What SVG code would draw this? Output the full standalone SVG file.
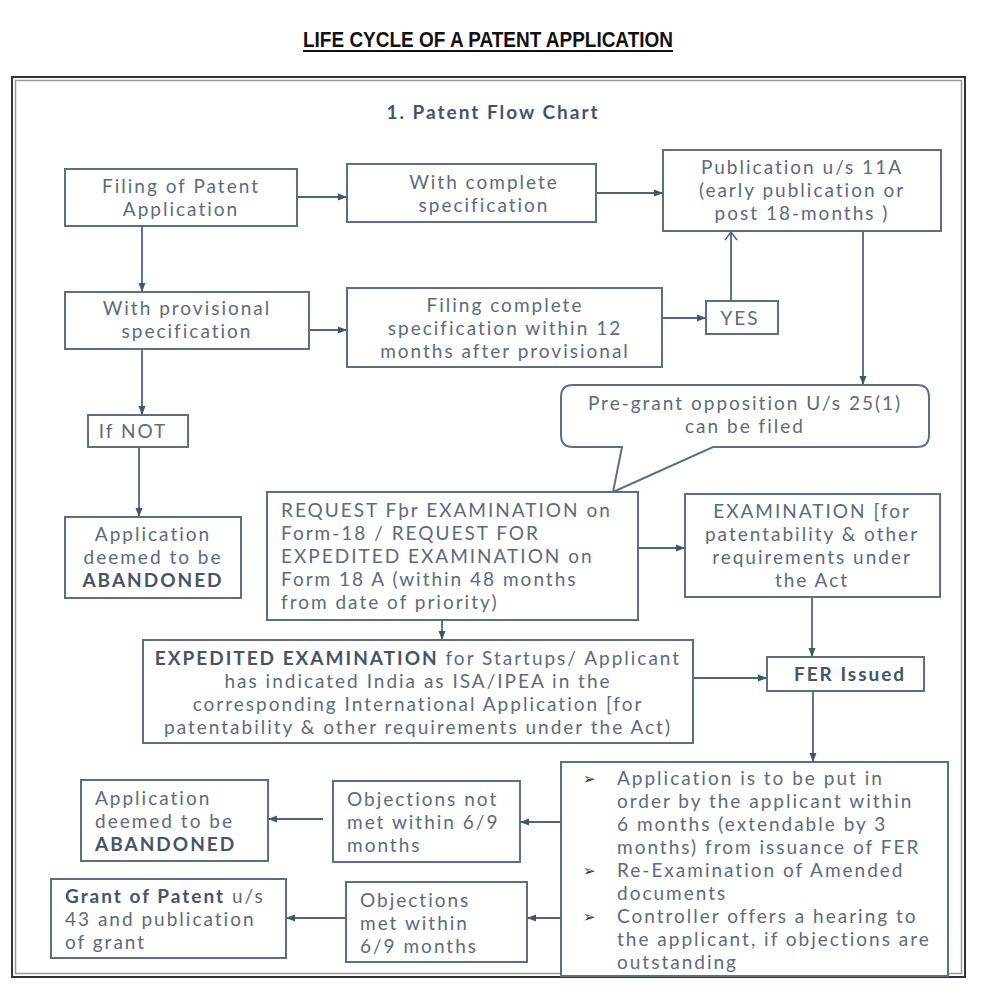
<svg xmlns="http://www.w3.org/2000/svg" width="998" height="998" viewBox="0 0 998 998">
<style>
.bx{fill:#fff;stroke:#5b6f86;stroke-width:2}
.t{font-family:Lato,"Open Sans",sans-serif;font-size:19px;fill:#5d6a7b;letter-spacing:2px}
.c{text-anchor:middle}
.b{font-weight:bold;fill:#44546a}
.ln{fill:none;stroke:#4e6580;stroke-width:1.8}
.bul{font-family:"DejaVu Sans",sans-serif;font-size:15px;fill:#333}
</style>
<defs>
<marker id="ar" markerUnits="userSpaceOnUse" markerWidth="10" markerHeight="10" refX="9" refY="5" orient="auto">
<path d="M0,1.5 L9,5 L0,8.5 Z" fill="#3f5570"/>
</marker>
<marker id="op" markerUnits="userSpaceOnUse" markerWidth="14" markerHeight="14" refX="9" refY="7" orient="auto">
<path d="M1,1 L9,7 L1,13" fill="none" stroke="#4e6580" stroke-width="1.5"/>
</marker>
</defs>
<rect width="998" height="998" fill="#fff"/>
<g id="title">
<text x="488" y="47" font-family="Liberation Sans,Arial,sans-serif" font-weight="bold" font-size="22" text-anchor="middle" textLength="370" lengthAdjust="spacingAndGlyphs" fill="#111">LIFE CYCLE OF A PATENT APPLICATION</text>
<line x1="303" y1="51" x2="673" y2="51" stroke="#111" stroke-width="2"/>
</g>
<g id="frame">
<rect x="12" y="77" width="953" height="900" fill="none" stroke="#333" stroke-width="2"/>
<rect x="15.5" y="80.5" width="946" height="893" fill="none" stroke="#999" stroke-width="1.5"/>
</g>
<text x="493" y="119" class="t c b" style="font-size:19px;letter-spacing:2px">1. Patent Flow Chart</text>

<g id="connectors">
<line class="ln" x1="297" y1="197" x2="347" y2="197" marker-end="url(#ar)"/>
<line class="ln" x1="596" y1="193" x2="663" y2="193" marker-end="url(#ar)"/>
<line class="ln" x1="142" y1="226" x2="142" y2="292" marker-end="url(#ar)"/>
<line class="ln" x1="309" y1="330" x2="347" y2="330" marker-end="url(#ar)"/>
<line class="ln" x1="662" y1="318" x2="706" y2="318" marker-end="url(#ar)"/>
<line class="ln" x1="731" y1="301" x2="731" y2="232" marker-end="url(#op)"/>
<line class="ln" x1="863" y1="231" x2="863" y2="385" marker-end="url(#ar)"/>
<line class="ln" x1="142" y1="349" x2="142" y2="415" marker-end="url(#ar)"/>
<line class="ln" x1="139" y1="447" x2="139" y2="517" marker-end="url(#ar)"/>
<line class="ln" x1="638" y1="548" x2="685" y2="548" marker-end="url(#ar)"/>
<line class="ln" x1="442" y1="620" x2="442" y2="640" marker-end="url(#ar)"/>
<line class="ln" x1="812" y1="597" x2="812" y2="657" marker-end="url(#ar)"/>
<line class="ln" x1="693" y1="678" x2="767" y2="678" marker-end="url(#ar)"/>
<line class="ln" x1="813" y1="691" x2="813" y2="762" marker-end="url(#ar)"/>
<line class="ln" x1="561" y1="822" x2="520" y2="822" marker-end="url(#ar)"/>
<line class="ln" x1="323" y1="819" x2="268" y2="819" marker-end="url(#ar)"/>
<line class="ln" x1="561" y1="918" x2="527" y2="918" marker-end="url(#ar)"/>
<line class="ln" x1="346" y1="918" x2="286" y2="918" marker-end="url(#ar)"/>
</g>

<g id="filing">
<rect class="bx" x="65" y="169" width="232" height="57"/>
<text class="t c" x="181" y="193">Filing of Patent</text>
<text class="t c" x="181" y="216">Application</text>
</g>
<g id="complete">
<rect class="bx" x="347" y="164" width="249" height="58"/>
<text class="t c" x="484" y="189">With complete</text>
<text class="t c" x="484" y="212">specification</text>
</g>
<g id="publication">
<rect class="bx" x="663" y="150" width="278" height="81"/>
<text class="t c" x="802" y="174">Publication u/s 11A</text>
<text class="t c" x="802" y="197">(early publication or</text>
<text class="t c" x="802" y="220">post 18-months )</text>
</g>
<g id="provisional">
<rect class="bx" x="65" y="292" width="244" height="57"/>
<text class="t c" x="187" y="315">With provisional</text>
<text class="t c" x="187" y="338">specification</text>
</g>
<g id="filingcomplete">
<rect class="bx" x="347" y="288" width="315" height="79"/>
<text class="t c" x="505" y="312">Filing complete</text>
<text class="t c" x="505" y="335">specification within 12</text>
<text class="t c" x="505" y="358">months after provisional</text>
</g>
<g id="yes">
<rect class="bx" x="706" y="301" width="72" height="33"/>
<text class="t c" x="740" y="325">YES</text>
</g>
<g id="pregrant">
<path class="bx" d="M573,385 H917 Q929,385 929,397 V435 Q929,447 917,447 H713 L613,492 L622,447 H573 Q561,447 561,435 V397 Q561,385 573,385 Z"/>
<text class="t c" x="745" y="410">Pre-grant opposition U/s 25(1)</text>
<text class="t c" x="745" y="433">can be filed</text>
</g>
<g id="ifnot">
<rect class="bx" x="88" y="415" width="100" height="32"/>
<text class="t c" x="133" y="438">If NOT</text>
</g>
<g id="abandoned1">
<rect class="bx" x="65" y="517" width="176" height="81"/>
<text class="t c" x="153" y="541">Application</text>
<text class="t c" x="153" y="564">deemed to be</text>
<text class="t c b" x="153" y="587">ABANDONED</text>
</g>
<g id="request">
<rect class="bx" x="267" y="492" width="371" height="128"/>
<text class="t" x="281" y="517">REQUEST Fþr EXAMINATION on</text>
<text class="t" x="281" y="540">Form-18 /  REQUEST FOR</text>
<text class="t" x="281" y="563">EXPEDITED EXAMINATION on</text>
<text class="t" x="281" y="586">Form 18 A (within 48 months</text>
<text class="t" x="281" y="609">from date of priority)</text>
</g>
<g id="examination">
<rect class="bx" x="685" y="494" width="255" height="103"/>
<text class="t c" x="812" y="518">EXAMINATION [for</text>
<text class="t c" x="812" y="541">patentability &amp; other</text>
<text class="t c" x="812" y="564">requirements under</text>
<text class="t c" x="812" y="587">the Act</text>
</g>
<g id="expedited">
<rect class="bx" x="143" y="640" width="550" height="103"/>
<text class="t c" x="418" y="665"><tspan class="b">EXPEDITED EXAMINATION</tspan> for Startups/ Applicant</text>
<text class="t c" x="418" y="688">has indicated India as ISA/IPEA in the</text>
<text class="t c" x="418" y="711">corresponding International Application [for</text>
<text class="t c" x="418" y="734">patentability &amp; other requirements under the Act)</text>
</g>
<g id="fer">
<rect class="bx" x="767" y="657" width="157" height="34"/>
<text class="t c b" x="850" y="681">FER Issued</text>
</g>
<g id="steps">
<rect class="bx" x="561" y="762" width="387" height="214"/>
<text class="bul" x="583" y="784">➢</text>
<text class="bul" x="583" y="876">➢</text>
<text class="bul" x="583" y="922">➢</text>
<text class="t" x="617" y="785">Application is to be  put in</text>
<text class="t" x="617" y="808">order  by the applicant within</text>
<text class="t" x="617" y="831">6 months (extendable by 3</text>
<text class="t" x="617" y="854">months) from issuance of FER</text>
<text class="t" x="617" y="877"> Re-Examination of Amended</text>
<text class="t" x="617" y="900">documents</text>
<text class="t" x="617" y="923"> Controller offers a hearing to</text>
<text class="t" x="617" y="946">the applicant, if objections are</text>
<text class="t" x="617" y="969">outstanding</text>
</g>
<g id="notmet">
<rect class="bx" x="333" y="781" width="187" height="81"/>
<text class="t" x="347" y="806">Objections not</text>
<text class="t" x="347" y="829">met within 6/9</text>
<text class="t" x="347" y="852">months</text>
</g>
<g id="abandoned2">
<rect class="bx" x="81" y="780" width="187" height="81"/>
<text class="t" x="95" y="805">Application</text>
<text class="t" x="95" y="828">deemed to be</text>
<text class="t b" x="95" y="851">ABANDONED</text>
</g>
<g id="met">
<rect class="bx" x="346" y="882" width="181" height="80"/>
<text class="t" x="360" y="907">Objections</text>
<text class="t" x="360" y="930">met within</text>
<text class="t" x="360" y="953">6/9 months</text>
</g>
<g id="grant">
<rect class="bx" x="51" y="879" width="235" height="79"/>
<text class="t" x="65" y="903"><tspan class="b">Grant of Patent</tspan> u/s</text>
<text class="t" x="65" y="926">43 and publication</text>
<text class="t" x="65" y="949">of grant</text>
</g>
</svg>
